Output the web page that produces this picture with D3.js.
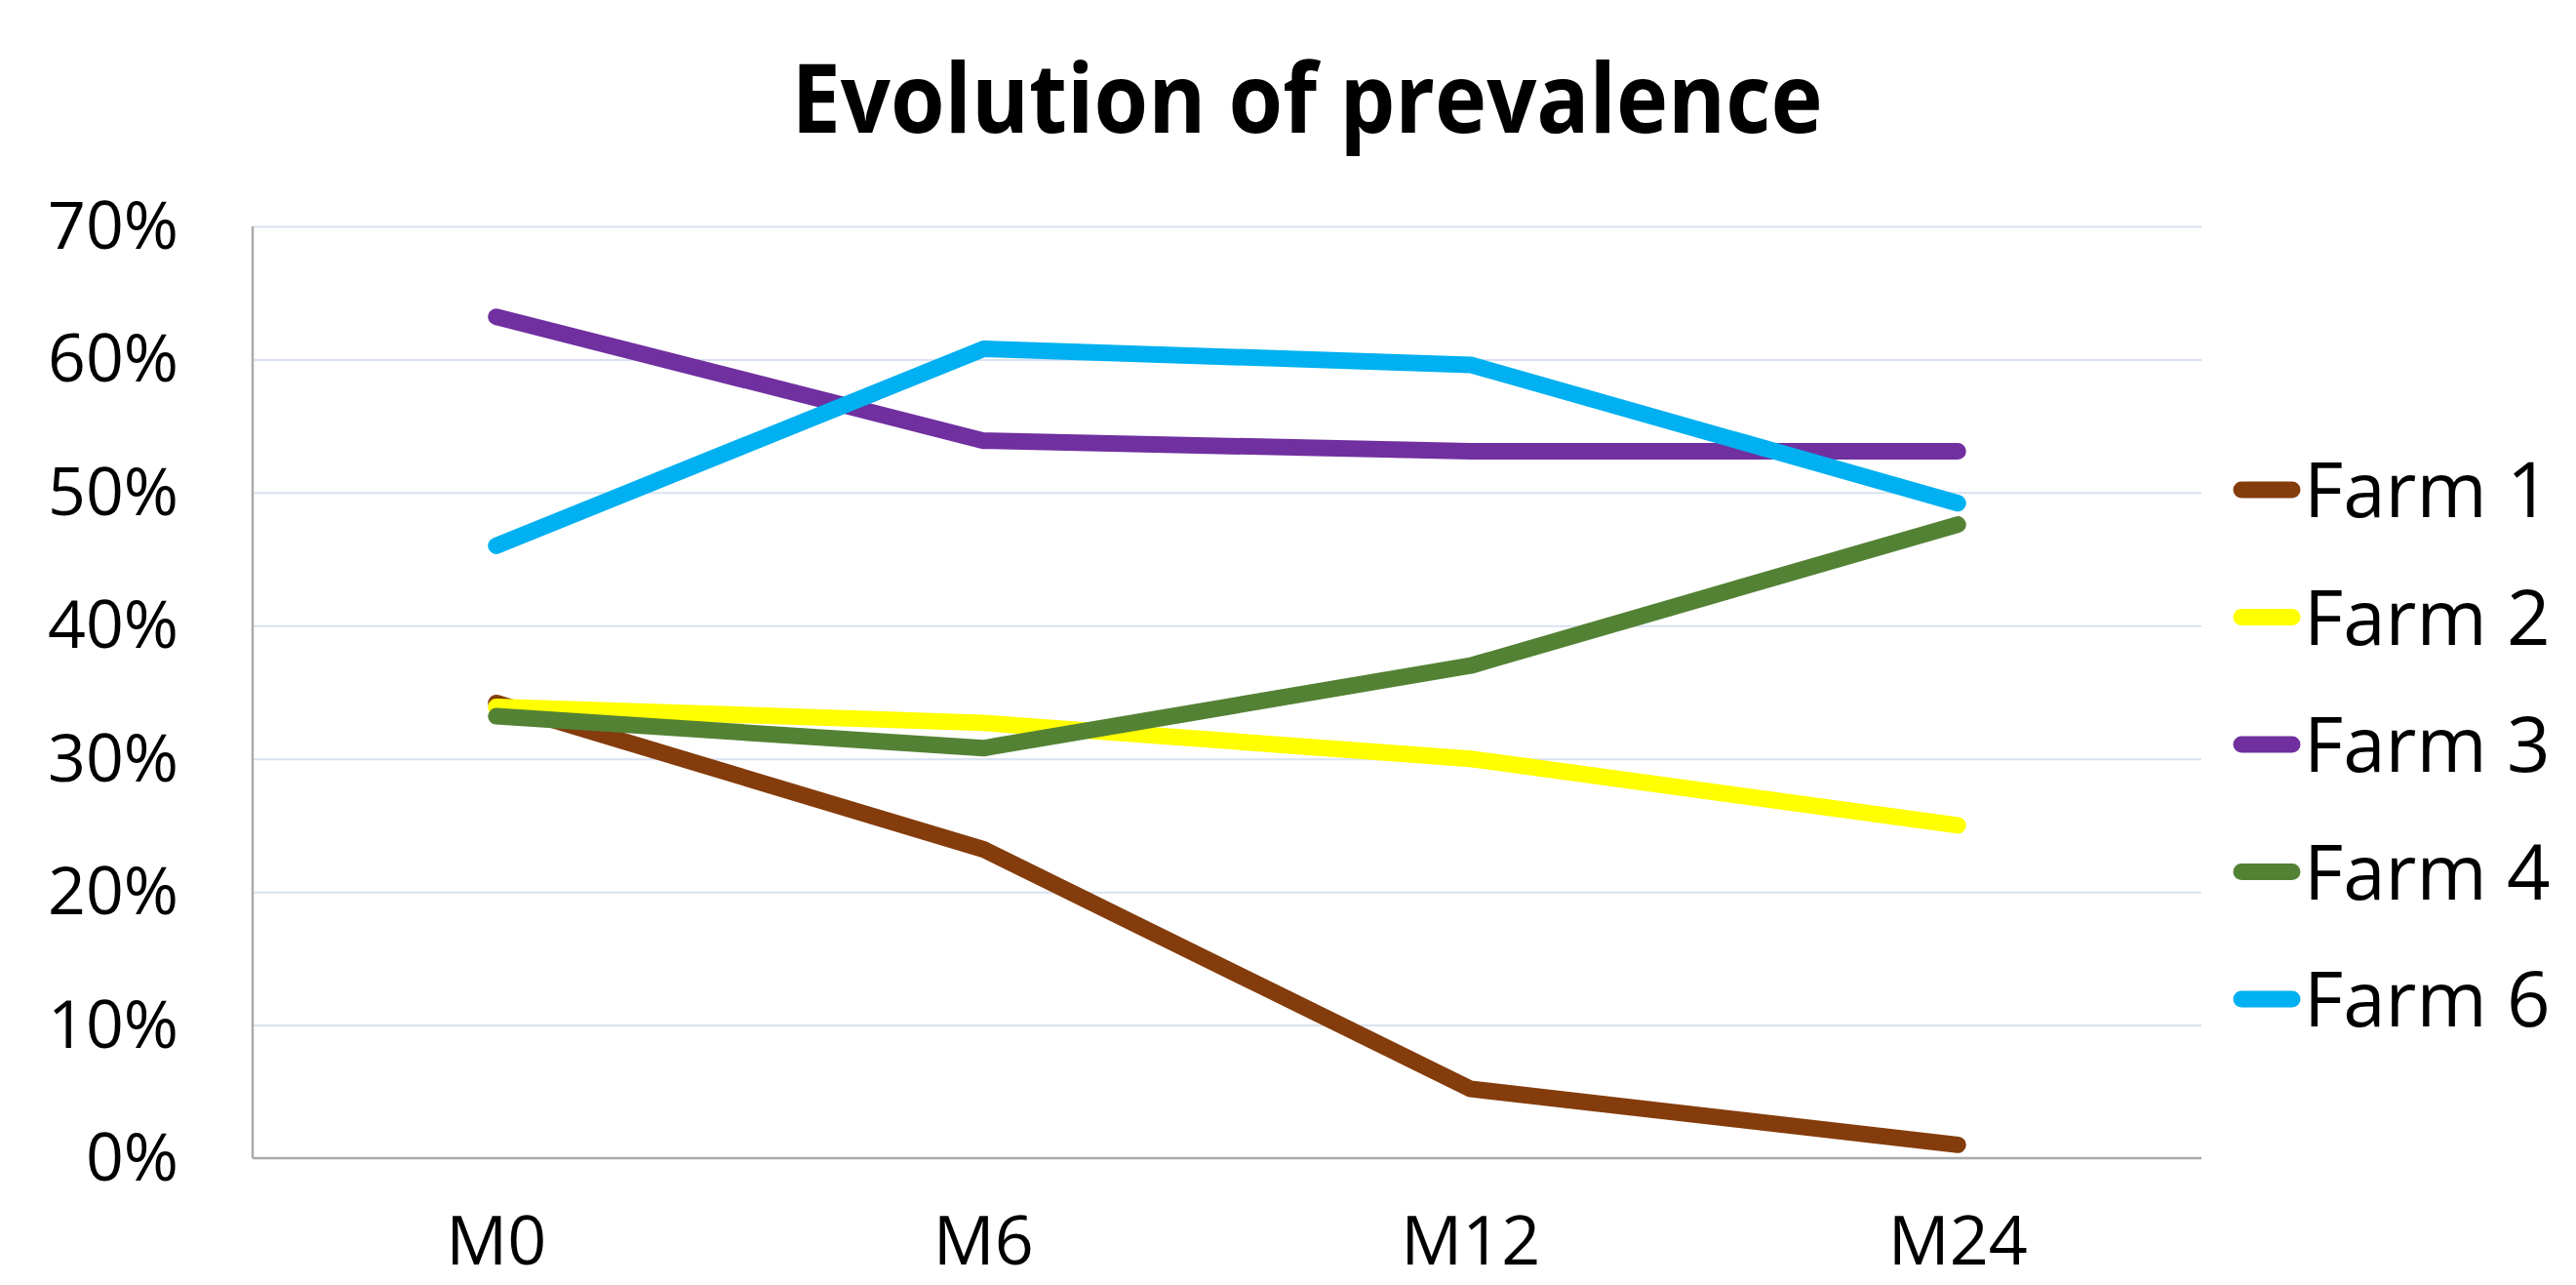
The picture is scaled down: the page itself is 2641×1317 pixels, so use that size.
<!DOCTYPE html>
<html>
<head>
<meta charset="utf-8">
<script src="https://d3js.org/d3.v7.min.js"></script>
<style>
  body { margin: 0; background: #fff; }
  svg { display: block; font-family: "Open Sans", sans-serif; }
  .grid line { stroke: #d9e2f2; stroke-width: 2px; }
  .grid .domain { stroke: none; }
  .axis text { fill: #000; font-family: "Open Sans", sans-serif; }
</style>
</head>
<body>
<script>
// categories + series
var months = ['M0', 'M6', 'M12', 'M24'];
var farms = ['Farm 1', 'Farm 2', 'Farm 3', 'Farm 4', 'Farm 6'];
var farm1 = [0.342, 0.232, 0.052, 0.010];
var farm2 = [0.339, 0.327, 0.300, 0.250];
var farm3 = [0.632, 0.539, 0.531, 0.531];
var farm4 = [0.332, 0.308, 0.370, 0.476];
var farm6 = [0.460, 0.608, 0.596, 0.492];
var colors = ['#843c0c', '#ffff00', '#7030a0', '#548235', '#00b0f0'];
var yTicks = [0, 0.1, 0.2, 0.3, 0.4, 0.5, 0.6, 0.7];

var series = [farm1, farm2, farm3, farm4, farm6];

var W = 2641, H = 1317;
var plot = {left: 259, right: 2257, top: 232, bottom: 1187};

var svg = d3.select('body').append('svg')
  .attr('width', W)
  .attr('height', H)

const xScale = d3.scalePoint()
  .domain(months)
  .range([plot.left, plot.right])
  .padding(0.5)

const yScale = d3.scaleLinear()
  .domain([0, 0.7])
  .range([plot.bottom, plot.top])

// gridlines
svg.append('g')
  .attr('class', 'grid')
  .attr('transform', `translate(${plot.left}, 0)`)
  .call(d3.axisRight(yScale).tickValues(yTicks.slice(1)).tickSize(plot.right - plot.left).tickFormat(''))

// y labels
svg.append('g')
  .attr('class', 'axis')
  .attr('transform', `translate(${plot.left}, 0)`)
  .call(d3.axisLeft(yScale).tickValues(yTicks).tickSize(0).tickPadding(76).tickFormat(d3.format('.0%')))
  .call(g => g.select('.domain').remove())
  .attr('font-family', null)
  .attr('font-size', null)
  .selectAll('text')
    .style('font-size', '68px')
    .attr('dy', '0.33em')

// axis lines
svg.append('line')
  .attr('x1', plot.left).attr('x2', plot.left)
  .attr('y1', plot.top).attr('y2', plot.bottom)
  .attr('stroke', '#ababab').attr('stroke-width', 2.5)
svg.append('line')
  .attr('x1', plot.left).attr('x2', plot.right)
  .attr('y1', plot.bottom).attr('y2', plot.bottom)
  .attr('stroke', '#ababab').attr('stroke-width', 2.5)

// x labels
svg.append('g')
  .attr('class', 'axis')
  .selectAll('text')
  .data(months)
  .enter()
  .append('text')
    .attr('x', d => xScale(d))
    .attr('y', 1296)
    .attr('text-anchor', 'middle')
    .style('font-size', '70px')
    .text(d => d)

// lines
const line = d3.line()
  .x((d, i) => xScale(months[i]))
  .y(d => yScale(d))

svg.append('g')
  .selectAll('path')
  .data(series)
  .enter()
  .append('path')
    .attr('d', d => line(d))
    .attr('fill', 'none')
    .attr('stroke', (d, i) => colors[i])
    .attr('stroke-width', 17)
    .attr('stroke-linecap', 'round')
    .attr('stroke-linejoin', 'round')

// legend
var legend = svg.append('g')
  .selectAll('g')
  .data(farms)
  .enter()
  .append('g')
    .attr('transform', (d, i) => `translate(0, ${502 + i * 130.5})`)

legend.append('line')
  .attr('x1', 2298).attr('x2', 2350)
  .attr('stroke', (d, i) => colors[i])
  .attr('stroke-width', 17)
  .attr('stroke-linecap', 'round')

legend.append('text')
  .attr('x', 2362)
  .attr('y', 28)
  .style('font-size', '78px')
  .text(d => d)

// title
svg.append('text')
  .attr('x', 1340)
  .attr('y', 136)
  .attr('text-anchor', 'middle')
  .attr('textLength', 1057)
  .attr('lengthAdjust', 'spacingAndGlyphs')
  .style('font-size', '99px')
  .style('font-weight', 700)
  .text('Evolution of prevalence')
</script>
</body>
</html>
